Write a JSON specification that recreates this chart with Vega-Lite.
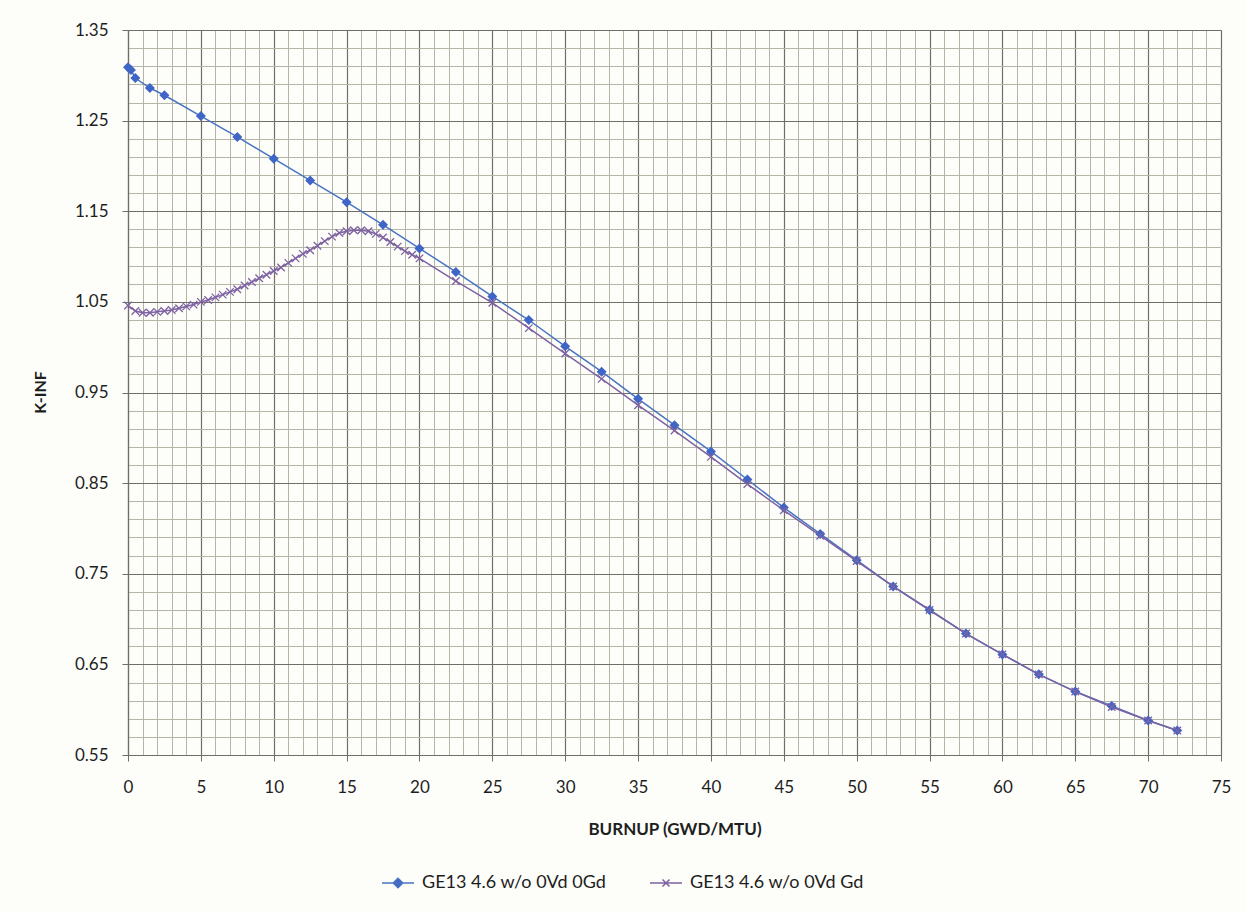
{
  "$schema": "https://vega.github.io/schema/vega-lite/v6.json",
  "width": 1093,
  "height": 725,
  "autosize": "none",
  "padding": {"left": 128, "top": 30, "right": 24, "bottom": 157},
  "background": "#fdfdfa",
  "config": {
    "view": {"stroke": "#6e6e66", "strokeWidth": 1},
    "font": "Lato",
    "axis": {"labelFont": "Lato", "titleFont": "Lato", "labelColor": "#1e1e1e", "titleColor": "#1e1e1e"},
    "legend": {"labelFont": "Lato"}
  },
  "datasets": {
    "k": [
      {"s": "GE13 4.6 w/o 0Vd 0Gd", "x": 0, "y": 1.309},
      {"s": "GE13 4.6 w/o 0Vd 0Gd", "x": 0.2, "y": 1.306},
      {"s": "GE13 4.6 w/o 0Vd 0Gd", "x": 0.5, "y": 1.297},
      {"s": "GE13 4.6 w/o 0Vd 0Gd", "x": 1.5, "y": 1.286},
      {"s": "GE13 4.6 w/o 0Vd 0Gd", "x": 2.5, "y": 1.278},
      {"s": "GE13 4.6 w/o 0Vd 0Gd", "x": 5, "y": 1.255},
      {"s": "GE13 4.6 w/o 0Vd 0Gd", "x": 7.5, "y": 1.232},
      {"s": "GE13 4.6 w/o 0Vd 0Gd", "x": 10, "y": 1.208},
      {"s": "GE13 4.6 w/o 0Vd 0Gd", "x": 12.5, "y": 1.184},
      {"s": "GE13 4.6 w/o 0Vd 0Gd", "x": 15, "y": 1.160},
      {"s": "GE13 4.6 w/o 0Vd 0Gd", "x": 17.5, "y": 1.135},
      {"s": "GE13 4.6 w/o 0Vd 0Gd", "x": 20, "y": 1.109},
      {"s": "GE13 4.6 w/o 0Vd 0Gd", "x": 22.5, "y": 1.083},
      {"s": "GE13 4.6 w/o 0Vd 0Gd", "x": 25, "y": 1.056},
      {"s": "GE13 4.6 w/o 0Vd 0Gd", "x": 27.5, "y": 1.030},
      {"s": "GE13 4.6 w/o 0Vd 0Gd", "x": 30, "y": 1.001},
      {"s": "GE13 4.6 w/o 0Vd 0Gd", "x": 32.5, "y": 0.973},
      {"s": "GE13 4.6 w/o 0Vd 0Gd", "x": 35, "y": 0.943},
      {"s": "GE13 4.6 w/o 0Vd 0Gd", "x": 37.5, "y": 0.914},
      {"s": "GE13 4.6 w/o 0Vd 0Gd", "x": 40, "y": 0.885},
      {"s": "GE13 4.6 w/o 0Vd 0Gd", "x": 42.5, "y": 0.854},
      {"s": "GE13 4.6 w/o 0Vd 0Gd", "x": 45, "y": 0.823},
      {"s": "GE13 4.6 w/o 0Vd 0Gd", "x": 47.5, "y": 0.794},
      {"s": "GE13 4.6 w/o 0Vd 0Gd", "x": 50, "y": 0.765},
      {"s": "GE13 4.6 w/o 0Vd 0Gd", "x": 52.5, "y": 0.736},
      {"s": "GE13 4.6 w/o 0Vd 0Gd", "x": 55, "y": 0.710},
      {"s": "GE13 4.6 w/o 0Vd 0Gd", "x": 57.5, "y": 0.684},
      {"s": "GE13 4.6 w/o 0Vd 0Gd", "x": 60, "y": 0.661},
      {"s": "GE13 4.6 w/o 0Vd 0Gd", "x": 62.5, "y": 0.639},
      {"s": "GE13 4.6 w/o 0Vd 0Gd", "x": 65, "y": 0.620},
      {"s": "GE13 4.6 w/o 0Vd 0Gd", "x": 67.5, "y": 0.604},
      {"s": "GE13 4.6 w/o 0Vd 0Gd", "x": 70, "y": 0.588},
      {"s": "GE13 4.6 w/o 0Vd 0Gd", "x": 72, "y": 0.577},
      {"s": "GE13 4.6 w/o 0Vd Gd", "x": 0, "y": 1.046},
      {"s": "GE13 4.6 w/o 0Vd Gd", "x": 0.5, "y": 1.040},
      {"s": "GE13 4.6 w/o 0Vd Gd", "x": 1, "y": 1.038},
      {"s": "GE13 4.6 w/o 0Vd Gd", "x": 1.5, "y": 1.038},
      {"s": "GE13 4.6 w/o 0Vd Gd", "x": 2, "y": 1.039},
      {"s": "GE13 4.6 w/o 0Vd Gd", "x": 2.5, "y": 1.040},
      {"s": "GE13 4.6 w/o 0Vd Gd", "x": 3, "y": 1.041},
      {"s": "GE13 4.6 w/o 0Vd Gd", "x": 3.5, "y": 1.043},
      {"s": "GE13 4.6 w/o 0Vd Gd", "x": 4, "y": 1.045},
      {"s": "GE13 4.6 w/o 0Vd Gd", "x": 4.5, "y": 1.047},
      {"s": "GE13 4.6 w/o 0Vd Gd", "x": 5, "y": 1.050},
      {"s": "GE13 4.6 w/o 0Vd Gd", "x": 5.5, "y": 1.052},
      {"s": "GE13 4.6 w/o 0Vd Gd", "x": 6, "y": 1.055},
      {"s": "GE13 4.6 w/o 0Vd Gd", "x": 6.5, "y": 1.058},
      {"s": "GE13 4.6 w/o 0Vd Gd", "x": 7, "y": 1.061},
      {"s": "GE13 4.6 w/o 0Vd Gd", "x": 7.5, "y": 1.064},
      {"s": "GE13 4.6 w/o 0Vd Gd", "x": 8, "y": 1.068},
      {"s": "GE13 4.6 w/o 0Vd Gd", "x": 8.5, "y": 1.072},
      {"s": "GE13 4.6 w/o 0Vd Gd", "x": 9, "y": 1.076},
      {"s": "GE13 4.6 w/o 0Vd Gd", "x": 9.5, "y": 1.080},
      {"s": "GE13 4.6 w/o 0Vd Gd", "x": 10, "y": 1.084},
      {"s": "GE13 4.6 w/o 0Vd Gd", "x": 10.5, "y": 1.088},
      {"s": "GE13 4.6 w/o 0Vd Gd", "x": 11, "y": 1.093},
      {"s": "GE13 4.6 w/o 0Vd Gd", "x": 11.5, "y": 1.098},
      {"s": "GE13 4.6 w/o 0Vd Gd", "x": 12, "y": 1.103},
      {"s": "GE13 4.6 w/o 0Vd Gd", "x": 12.5, "y": 1.107},
      {"s": "GE13 4.6 w/o 0Vd Gd", "x": 13, "y": 1.112},
      {"s": "GE13 4.6 w/o 0Vd Gd", "x": 13.5, "y": 1.117},
      {"s": "GE13 4.6 w/o 0Vd Gd", "x": 14, "y": 1.122},
      {"s": "GE13 4.6 w/o 0Vd Gd", "x": 14.5, "y": 1.126},
      {"s": "GE13 4.6 w/o 0Vd Gd", "x": 15, "y": 1.128},
      {"s": "GE13 4.6 w/o 0Vd Gd", "x": 15.5, "y": 1.129},
      {"s": "GE13 4.6 w/o 0Vd Gd", "x": 16, "y": 1.129},
      {"s": "GE13 4.6 w/o 0Vd Gd", "x": 16.5, "y": 1.128},
      {"s": "GE13 4.6 w/o 0Vd Gd", "x": 17, "y": 1.125},
      {"s": "GE13 4.6 w/o 0Vd Gd", "x": 17.5, "y": 1.121},
      {"s": "GE13 4.6 w/o 0Vd Gd", "x": 18, "y": 1.116},
      {"s": "GE13 4.6 w/o 0Vd Gd", "x": 18.5, "y": 1.111},
      {"s": "GE13 4.6 w/o 0Vd Gd", "x": 19, "y": 1.106},
      {"s": "GE13 4.6 w/o 0Vd Gd", "x": 19.5, "y": 1.102},
      {"s": "GE13 4.6 w/o 0Vd Gd", "x": 20, "y": 1.098},
      {"s": "GE13 4.6 w/o 0Vd Gd", "x": 22.5, "y": 1.073},
      {"s": "GE13 4.6 w/o 0Vd Gd", "x": 25, "y": 1.049},
      {"s": "GE13 4.6 w/o 0Vd Gd", "x": 27.5, "y": 1.021},
      {"s": "GE13 4.6 w/o 0Vd Gd", "x": 30, "y": 0.993},
      {"s": "GE13 4.6 w/o 0Vd Gd", "x": 32.5, "y": 0.965},
      {"s": "GE13 4.6 w/o 0Vd Gd", "x": 35, "y": 0.936},
      {"s": "GE13 4.6 w/o 0Vd Gd", "x": 37.5, "y": 0.908},
      {"s": "GE13 4.6 w/o 0Vd Gd", "x": 40, "y": 0.879},
      {"s": "GE13 4.6 w/o 0Vd Gd", "x": 42.5, "y": 0.849},
      {"s": "GE13 4.6 w/o 0Vd Gd", "x": 45, "y": 0.820},
      {"s": "GE13 4.6 w/o 0Vd Gd", "x": 47.5, "y": 0.792},
      {"s": "GE13 4.6 w/o 0Vd Gd", "x": 50, "y": 0.764},
      {"s": "GE13 4.6 w/o 0Vd Gd", "x": 52.5, "y": 0.736},
      {"s": "GE13 4.6 w/o 0Vd Gd", "x": 55, "y": 0.710},
      {"s": "GE13 4.6 w/o 0Vd Gd", "x": 57.5, "y": 0.684},
      {"s": "GE13 4.6 w/o 0Vd Gd", "x": 60, "y": 0.661},
      {"s": "GE13 4.6 w/o 0Vd Gd", "x": 62.5, "y": 0.639},
      {"s": "GE13 4.6 w/o 0Vd Gd", "x": 65, "y": 0.620},
      {"s": "GE13 4.6 w/o 0Vd Gd", "x": 67.5, "y": 0.603},
      {"s": "GE13 4.6 w/o 0Vd Gd", "x": 70, "y": 0.588},
      {"s": "GE13 4.6 w/o 0Vd Gd", "x": 72, "y": 0.577}
    ]
  },
  "data": {"name": "k"},
  "resolve": {"axis": {"x": "independent", "y": "independent"}},
  "layer": [
    {
      "transform": [{"filter": "datum.s === 'GE13 4.6 w/o 0Vd 0Gd'"}],
      "mark": {"type": "line", "strokeWidth": 1.5, "color": "#4874c2"},
      "encoding": {
        "x": {"field": "x", "type": "quantitative",
          "scale": {"domain": [0, 75], "nice": false, "zero": false},
          "axis": {"orient": "bottom", "values": [0,1,2,3,4,5,6,7,8,9,10,11,12,13,14,15,16,17,18,19,20,21,22,23,24,25,26,27,28,29,30,31,32,33,34,35,36,37,38,39,40,41,42,43,44,45,46,47,48,49,50,51,52,53,54,55,56,57,58,59,60,61,62,63,64,65,66,67,68,69,70,71,72,73,74,75],
            "grid": true, "gridColor": "#b3b5a6", "gridWidth": 1, "gridOpacity": 1,
            "labels": false, "ticks": false, "domain": false, "title": null}},
        "y": {"field": "y", "type": "quantitative",
          "scale": {"domain": [0.55, 1.35], "nice": false, "zero": false},
          "axis": {"orient": "left", "values": [0.55,0.57,0.59,0.61,0.63,0.65,0.67,0.69,0.71,0.73,0.75,0.77,0.79,0.81,0.83,0.85,0.87,0.89,0.91,0.93,0.95,0.97,0.99,1.01,1.03,1.05,1.07,1.09,1.11,1.13,1.15,1.17,1.19,1.21,1.23,1.25,1.27,1.29,1.31,1.33,1.35],
            "grid": true, "gridColor": "#b3b5a6", "gridWidth": 1, "gridOpacity": 1,
            "labels": false, "ticks": false, "domain": false, "title": null}}
      }
    },
    {
      "transform": [{"filter": "datum.s === 'GE13 4.6 w/o 0Vd Gd'"}],
      "mark": {"type": "line", "strokeWidth": 1.5, "color": "#7e62a2"},
      "encoding": {
        "x": {"field": "x", "type": "quantitative", "axis": null},
        "y": {"field": "y", "type": "quantitative", "axis": null}
      }
    },
    {
      "transform": [{"filter": "datum.s === 'GE13 4.6 w/o 0Vd 0Gd'"}],
      "mark": {"type": "point", "shape": "diamond", "filled": true, "size": 100, "color": "#3f66c6", "opacity": 1},
      "encoding": {
        "x": {"field": "x", "type": "quantitative",
          "axis": {"orient": "bottom", "values": [0,5,10,15,20,25,30,35,40,45,50,55,60,65,70,75],
            "grid": true, "gridColor": "#6f6f66", "gridWidth": 1.2, "gridOpacity": 1,
            "domain": true, "domainColor": "#6f6f66", "domainWidth": 1.2,
            "ticks": true, "tickSize": 6, "tickColor": "#6f6f66",
            "labelFontSize": 17, "labelPadding": 18, "labelFlush": false,
            "title": "BURNUP (GWD/MTU)", "titleFontSize": 17, "titleFontWeight": "bold",
            "titleY": 74, "titleBaseline": "middle"}},
        "y": {"field": "y", "type": "quantitative",
          "axis": {"orient": "left", "values": [0.55,0.65,0.75,0.85,0.95,1.05,1.15,1.25,1.35], "format": ".2f",
            "grid": true, "gridColor": "#6f6f66", "gridWidth": 1.2, "gridOpacity": 1,
            "domain": true, "domainColor": "#6f6f66", "domainWidth": 1.2,
            "ticks": true, "tickSize": 6, "tickColor": "#6f6f66",
            "labelFontSize": 17, "labelPadding": 14, "labelFlush": false,
            "title": "K-INF", "titleFontSize": 16, "titleFontWeight": "bold",
            "titleX": -88, "titleY": 362, "titleAngle": -90, "titleAlign": "center", "titleBaseline": "middle"}}
      }
    },
    {
      "transform": [{"filter": "datum.s === 'GE13 4.6 w/o 0Vd Gd'"}],
      "mark": {"type": "point", "shape": "M-1,-1L1,1M-1,1L1,-1", "filled": false, "size": 56, "color": "#7e62a2", "strokeWidth": 1.3, "opacity": 1},
      "encoding": {
        "x": {"field": "x", "type": "quantitative", "axis": null},
        "y": {"field": "y", "type": "quantitative", "axis": null}
      }
    },
    {
      "transform": [{"filter": "datum.x > 1000"}],
      "mark": {"type": "point", "filled": true, "size": 1024, "strokeWidth": 1.5},
      "encoding": {
        "x": {"field": "x", "type": "quantitative", "axis": null},
        "y": {"field": "y", "type": "quantitative", "axis": null},
        "fill": {"field": "s", "type": "nominal",
          "scale": {"domain": ["GE13 4.6 w/o 0Vd 0Gd", "GE13 4.6 w/o 0Vd Gd"], "range": ["#3f66c6", "#7e62a2"]},
          "legend": {"title": null, "orient": "none", "legendX": 253, "legendY": 836, "direction": "horizontal", "columns": 2,
            "symbolSize": 1024, "symbolStrokeWidth": 1.5, "symbolOpacity": 1, "labelFontSize": 18, "labelColor": "#1e1e1e",
            "labelOffset": 7, "columnPadding": 40, "labelLimit": 400}},
        "stroke": {"field": "s", "type": "nominal",
          "scale": {"domain": ["GE13 4.6 w/o 0Vd 0Gd", "GE13 4.6 w/o 0Vd Gd"], "range": ["#4874c2", "#7e62a2"]},
          "legend": {"title": null, "orient": "none", "legendX": 253, "legendY": 836, "direction": "horizontal", "columns": 2,
            "symbolSize": 1024, "symbolStrokeWidth": 1.5, "symbolOpacity": 1, "labelFontSize": 18, "labelColor": "#1e1e1e",
            "labelOffset": 7, "columnPadding": 40, "labelLimit": 400}},
        "shape": {"field": "s", "type": "nominal",
          "scale": {"domain": ["GE13 4.6 w/o 0Vd 0Gd", "GE13 4.6 w/o 0Vd Gd"], "range": ["M-1,0H1M0,-0.3L0.3,0L0,0.3L-0.3,0Z", "M-1,0H1M-0.22,-0.22L0.22,0.22M-0.22,0.22L0.22,-0.22"]},
          "legend": {"title": null, "orient": "none", "legendX": 253, "legendY": 836, "direction": "horizontal", "columns": 2,
            "symbolSize": 1024, "symbolStrokeWidth": 1.5, "symbolOpacity": 1, "labelFontSize": 18, "labelColor": "#1e1e1e",
            "labelOffset": 7, "columnPadding": 40, "labelLimit": 400}}
      }
    }
  ]
}
